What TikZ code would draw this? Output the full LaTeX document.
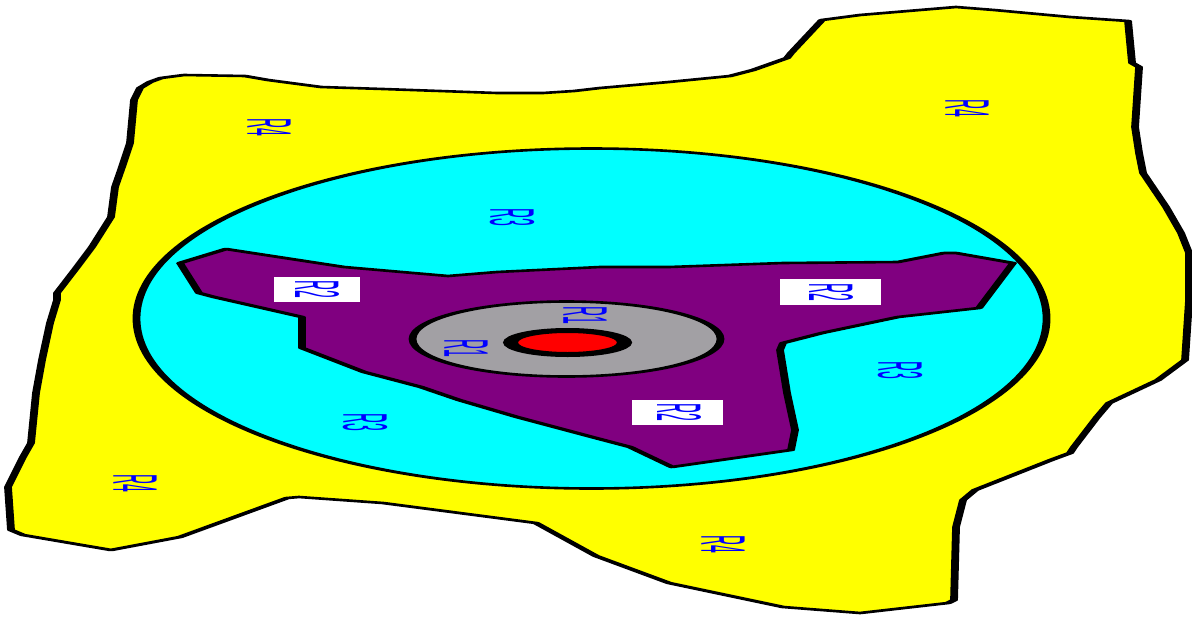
\documentclass[tikz,border=0pt]{standalone}
\usepackage{fontspec}
\setmainfont{Liberation Sans}
\definecolor{ylw}{RGB}{255,255,0}
\definecolor{cyn}{RGB}{0,255,255}
\definecolor{prp}{RGB}{128,0,128}
\definecolor{gry}{RGB}{162,160,164}
\definecolor{rd}{RGB}{255,0,0}
\definecolor{lblue}{RGB}{0,0,255}
\tikzset{
  region/.style={draw=black, line width=1.3pt, line join=round},
  lbl/.style={rotate=-90, text=lblue, font=\fontsize{7}{8}\selectfont, inner sep=0pt},
  lblbox/.style={fill=white}
}
\begin{document}
\begin{tikzpicture}[x=0.5pt,y=-0.5pt]
\useasboundingbox (0,0) rectangle (1192,621);
\begin{scope}[transform canvas={xscale=3}, x=0.16666667pt, y=-0.5pt]
% R4 region
\draw[region, fill=ylw] (140,88) -- (150,82) -- (161,78) -- (184,75) -- (245,76) -- (268,80) -- (321,87) -- (383,89) -- (440,91) -- (497,93) -- (543,93) -- (574,91) -- (600,88) -- (669,82) -- (730,76) -- (753,70) -- (787,58) -- (791,53) -- (822,20) -- (860,15) -- (956,7) -- (994,10) -- (1070,17) -- (1128,21) -- (1132,63) -- (1139,67) -- (1135,127) -- (1139,153) -- (1143,173) -- (1166,207) -- (1181,233) -- (1189,253) -- (1189,300) -- (1185,360) -- (1158,380) -- (1109,403) -- (1097,417) -- (1074,447) -- (1070,453) -- (1051,460) -- (975,490) -- (963,500) -- (956,527) -- (954,600) -- (948,603) -- (860,613) -- (783,607) -- (669,583) -- (596,556) -- (536,523) -- (383,503) -- (299,497) -- (287,498) -- (180,537) -- (111,550) -- (23,535) -- (11,530) -- (8,487) -- (15,473) -- (23,457) -- (31,443) -- (36,393) -- (42,360) -- (50,323) -- (57,300) -- (57,293) -- (77,267) -- (92,247) -- (111,217) -- (115,187) -- (122,167) -- (130,143) -- (134,100) -- cycle;
% R3 region
\draw[region, fill=cyn] (591.5,318.5) ellipse [x radius=455, y radius=170];
% R2 region
\draw[region, fill=prp] (180,263) -- (226,249) -- (344,267) -- (448,276) -- (497,272) -- (600,267) -- (669,267) -- (783,263) -- (898,262) -- (944,253) -- (956,253) -- (1013,263) -- (979,308) -- (898,317) -- (822,333) -- (783,343) -- (780,350) -- (787,393) -- (795,430) -- (791,450) -- (672,467) -- (630,447) -- (592,437) -- (517,417) -- (459,400) -- (421,387) -- (364,372) -- (302,348) -- (302,317) -- (214,297) -- (199,293) -- cycle;
% R1 region
\draw[region, fill=gry] (566.5,339) ellipse [x radius=154, y radius=37.5];
\draw[draw=black, line width=2.5pt, fill=rd] (567.5,342.5) ellipse [x radius=57, y radius=12];
% R2 label boxes
\fill[lblbox] (274,277) rectangle (360,302);
\fill[lblbox] (780,279) rectangle (881,305);
\fill[lblbox] (632,400) rectangle (723,425);
% labels
\node[lbl] (r4a) at (269,127) {\scalebox{1}[1.5]{R4}};
\node[lbl] (r4b) at (967,108) {\scalebox{1}[1.5]{R4}};
\node[lbl] (r4c) at (135,483) {\scalebox{1}[1.5]{R4}};
\node[lbl] (r4d) at (723,544) {\scalebox{1}[1.5]{R4}};
\node[lbl] (r3a) at (512,217) {\scalebox{1}[1.5]{R3}};
\node[lbl] (r3b) at (365,422) {\scalebox{1}[1.5]{R3}};
\node[lbl] (r3c) at (900,370) {\scalebox{1}[1.5]{R3}};
\node[lbl] (r2a) at (317,289.5) {\scalebox{1}[1.5]{R2}};
\node[lbl] (r2b) at (831,292) {\scalebox{1}[1.5]{R2}};
\node[lbl] (r2c) at (679,412.5) {\scalebox{1}[1.5]{R2}};
\node[lbl] (r1a) at (466,348) {\scalebox{1}[1.5]{R1}};
\node[lbl] (r1b) at (585,315) {\scalebox{1}[1.5]{R1}};
\end{scope}
\end{tikzpicture}
\end{document}
